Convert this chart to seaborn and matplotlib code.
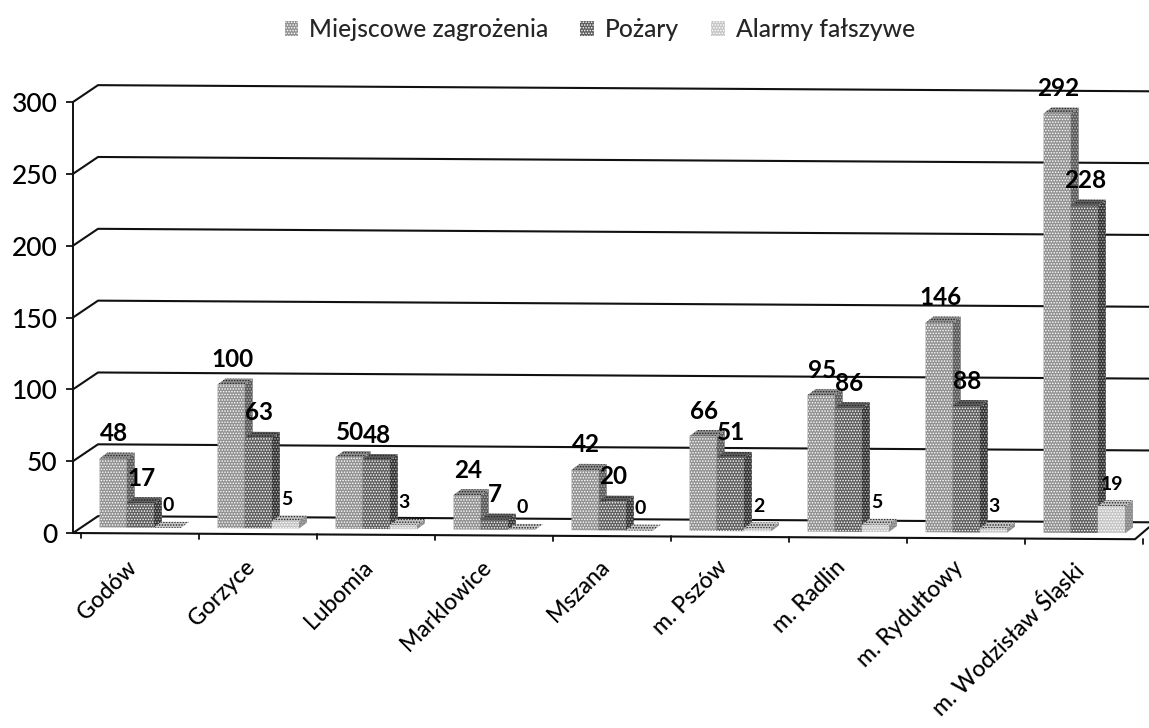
import pandas as pd
import matplotlib
matplotlib.use("Agg")
import matplotlib.pyplot as plt
import seaborn as sns
from matplotlib.patches import Patch, Polygon
from matplotlib.transforms import Affine2D, ScaledTranslation

gminy = ["Godów", "Gorzyce", "Lubomia", "Marklowice", "Mszana",
         "m. Pszów", "m. Radlin", "m. Rydułtowy", "m. Wodzisław Śląski"]
miejscowe = [48, 100, 50, 24, 42, 66, 95, 146, 292]
pozary = [17, 63, 48, 7, 20, 51, 86, 88, 228]
alarmy = [0, 5, 3, 0, 0, 2, 5, 3, 19]
serie = ["Miejscowe zagrożenia", "Pożary", "Alarmy fałszywe"]
kolory = ["#929292", "#5f5f5f", "#c6c6c6"]
boki = ["#5a5a5a", "#333333", "#8a8a8a"]
y_ticks = [0, 50, 100, 150, 200, 250, 300]

df = pd.DataFrame({"gmina": gminy, serie[0]: miejscowe, serie[1]: pozary, serie[2]: alarmy})
df = df.melt(id_vars="gmina", var_name="seria", value_name="liczba")

sns.set_style("white")
plt.rcParams["font.family"] = ["Lato", "DejaVu Sans"]
plt.rcParams["hatch.linewidth"] = 0.7

fig = plt.figure(figsize=(11.49, 7.28), dpi=100)
ax = fig.add_axes([73 / 1149, (728 - 533) / 728, 1062 / 1149, 431 / 728])

sns.barplot(data=df, x="gmina", y="liczba", hue="seria", hue_order=serie, palette=kolory,
            saturation=1, width=0.69, gap=0, legend=False, bottom=4, ax=ax)

ax.set_xlim(-0.57, 8.43)
ax.set_ylim(0, 300)
px = 1062 / 9  # pikseli na kategorie
py = 431 / 300  # pikseli na jednostke
# lekkie przechylenie calego wykresu (skan)
tilt = Affine2D.from_values(1, -0.48, 0, 1, 0, -0.48 * 0.57) + ax.transData

# tylna sciana i siatka
x_l, x_r = ax.get_xlim()
dx, dy = 25 / px, 17 / py
for v in y_ticks:
    ax.plot([x_l, x_l + dx, x_r + dx], [v, v + dy, v + dy], color="#111111", lw=1.5,
            clip_on=False, zorder=1, transform=tilt)
ax.plot([x_l, x_r, x_r + 14 / px], [0, 0, 12 / py], color="#111111", lw=1.5, clip_on=False, zorder=2, transform=tilt)
for i in range(len(gminy) + 1):
    ax.plot([i - 0.5, i - 0.5], [0, -5 / py], color="#111111", lw=1.3, clip_on=False, transform=tilt)

# slupki 3D
ox, oy = 8 / px, 6 / py
for n, cont in enumerate(ax.containers):
    for bar in cont:
        x0, w, y0, h = bar.get_x(), bar.get_width(), bar.get_y(), bar.get_height()
        x1, y1 = x0 + w, y0 + h
        bar.set(hatch="......", edgecolor="white", linewidth=0, zorder=5 + n, transform=tilt)
        side = Polygon([(x1, y0), (x1 + ox, y0 + oy), (x1 + ox, y1 + oy), (x1, y1)],
                       facecolor=boki[n], edgecolor="#bbbbbb", hatch="......", lw=0, zorder=5 + n, transform=tilt)
        top = Polygon([(x0, y1), (x0 + ox, y1 + oy), (x1 + ox, y1 + oy), (x1, y1)],
                      facecolor=kolory[n], edgecolor="#222222", hatch="......", lw=0, zorder=5 + n, transform=tilt)
        ax.add_patch(side)
        ax.add_patch(top)
        ax.text(x0 + w / 2 + 1 / px, y1 + (25 if n < 2 else 22) / py, str(int(h)), ha="center", va="center",
                fontweight="bold", fontsize=17.5 if n < 2 else 14, color="black", zorder=20, transform=tilt)

ax.set_xlabel("")
ax.set_ylabel("")
ax.set_yticks(y_ticks)
ax.set_xticks(range(len(gminy)))
ax.set_xticklabels(gminy, rotation=45, ha="right", rotation_mode="anchor", fontsize=16.5, color="black",
                   fontweight="medium")
ax.tick_params(axis="x", length=0, pad=17)
ax.tick_params(axis="y", length=5, width=1.3, color="#111111", labelsize=19, labelcolor="black", pad=6, left=True)
# etykiety sa w oryginale przesuniete w lewo wzgledem srodka kategorii
przesun = ScaledTranslation(-14 / 100, 0, fig.dpi_scale_trans)
for lab in ax.get_xticklabels():
    lab.set_transform(lab.get_transform() + przesun)
for lab in ax.get_yticklabels():
    lab.set_fontweight("medium")
for s in ["top", "right", "bottom"]:
    ax.spines[s].set_visible(False)
ax.spines["left"].set_color("#111111")
ax.spines["left"].set_linewidth(1.4)

handles = [Patch(facecolor=k, edgecolor="white", hatch="......", lw=0) for k in kolory]
fig.legend(handles=handles, labels=serie, loc="upper center", bbox_to_anchor=(0.522, 1.0055), ncol=3, frameon=False,
           prop={"size": 17.7, "weight": "medium"}, handlelength=0.55, handleheight=0.55, handletextpad=0.45,
           columnspacing=1.3)

fig.savefig("out.png", dpi=100)
